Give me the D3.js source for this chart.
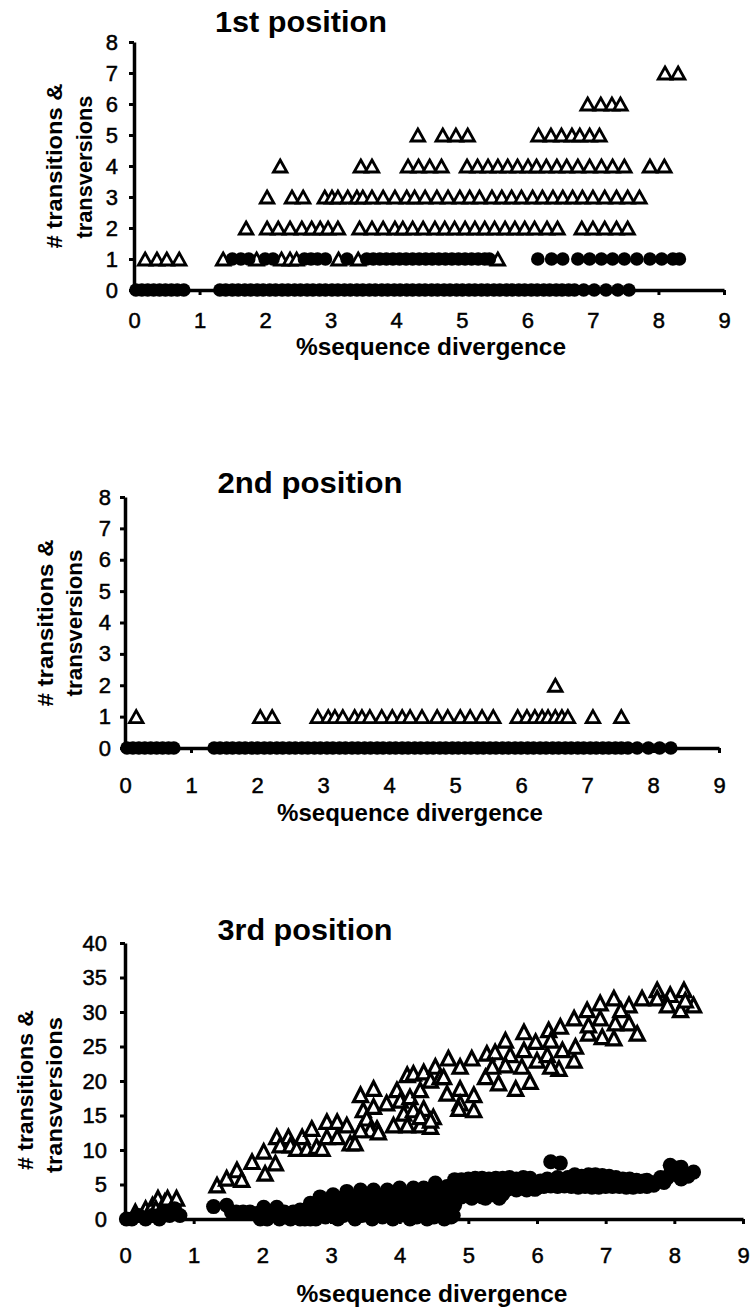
<!DOCTYPE html>
<html>
<head>
<meta charset="utf-8">
<script src="https://cdn.jsdelivr.net/npm/d3@7"></script>
<style>
  body { margin: 0; background: #fff; }
  svg text { font-family: "Liberation Sans", Arial, sans-serif; fill: #000; }
</style>
</head>
<body>
<div id="chart"></div>
<script>
// ---- labels / ticks ----
const xTicks = [0, 1, 2, 3, 4, 5, 6, 7, 8, 9];
const smallYTicks = [0, 1, 2, 3, 4, 5, 6, 7, 8];
const bigYTicks = [0, 5, 10, 15, 20, 25, 30, 35, 40];
const panelTitles = ["1st position", "2nd position", "3rd position"];
const xTitle = "%sequence divergence";
const yTitle = ["# transitions &", "transversions"];

// ---- 1st position: open triangles, x values per count ----
const p1Tri1 = [0.17, 0.35, 0.50, 0.69, 1.36, 1.87, 2.25, 2.38, 2.48, 3.12, 3.42, 5.55];
const p1Tri2 = [1.71, 2.03, 2.20, 2.38, 2.56, 2.71, 2.84, 2.96, 3.11, 3.44, 3.63, 3.80, 3.98, 4.10, 4.25, 4.41,
  4.59, 4.74, 4.89, 5.05, 5.20, 5.35, 5.50, 5.66, 5.81, 5.96, 6.11, 6.30, 6.46, 6.83, 7.00, 7.18, 7.36, 7.53];
const p1Tri3 = [2.03, 2.41, 2.58, 2.91, 3.02, 3.11, 3.26, 3.40, 3.49, 3.63, 3.80, 3.98, 4.16, 4.28, 4.44, 4.62,
  4.79, 4.97, 5.12, 5.27, 5.46, 5.61, 5.76, 5.91, 6.08, 6.23, 6.39, 6.54, 6.69, 6.84, 7.00, 7.18, 7.36, 7.53, 7.71];
const p1Tri4 = [2.23, 3.46, 3.63, 4.18, 4.34, 4.51, 4.69, 5.08, 5.24, 5.40, 5.55, 5.70, 5.85, 6.01, 6.14, 6.29,
  6.45, 6.60, 6.77, 6.95, 7.13, 7.30, 7.48, 7.87, 8.09];
const p1Tri5 = [4.33, 4.71, 4.91, 5.09, 6.17, 6.36, 6.52, 6.68, 6.80, 6.95, 7.10];
const p1Tri6 = [6.92, 7.12, 7.29, 7.42];
const p1Tri7 = [8.10, 8.30];
// filled circles
const p1Circ0 = [0.03, 0.12, 0.21, 0.30, 0.39, 0.48, 0.57, 0.66, 0.76, 1.31, 1.40, 1.50, 1.59, 1.69, 1.78, 1.88,
  1.97, 2.07, 2.16, 2.26, 2.35, 2.45, 2.54, 2.64, 2.73, 2.83, 2.92, 3.02, 3.11, 3.21, 3.30, 3.40, 3.49, 3.59,
  3.68, 3.78, 3.87, 3.97, 4.06, 4.16, 4.25, 4.35, 4.44, 4.54, 4.63, 4.73, 4.82, 4.92, 5.01, 5.11, 5.20, 5.30,
  5.39, 5.49, 5.58, 5.68, 5.77, 5.87, 5.96, 6.06, 6.15, 6.25, 6.34, 6.44, 6.53, 6.63, 6.72, 6.86, 7.02, 7.20,
  7.38, 7.55];
const p1Circ1 = [1.50, 1.63, 1.75, 2.00, 2.12, 2.60, 2.70, 2.80, 2.92, 3.25, 3.55, 3.65, 3.75, 3.85, 3.95, 4.05,
  4.15, 4.25, 4.35, 4.45, 4.55, 4.65, 4.75, 4.85, 4.95, 5.05, 5.15, 5.25, 5.35, 5.42, 6.16, 6.37, 6.54, 6.77,
  6.95, 7.13, 7.30, 7.48, 7.67, 7.87, 8.05, 8.22, 8.32];

// ---- 2nd position ----
const p2Tri1 = [0.17, 2.05, 2.23, 2.92, 3.08, 3.18, 3.30, 3.48, 3.59, 3.71, 3.89, 4.05, 4.20, 4.32, 4.50, 4.73,
  4.89, 5.08, 5.23, 5.41, 5.58, 5.95, 6.09, 6.21, 6.32, 6.41, 6.52, 6.62, 6.71, 7.09, 7.52];
const p2Tri2 = [6.52];
const p2Circ0 = [0.03, 0.12, 0.21, 0.30, 0.39, 0.48, 0.57, 0.66, 0.74, 1.35, 1.44, 1.54, 1.63, 1.73, 1.82, 1.92,
  2.01, 2.11, 2.20, 2.30, 2.39, 2.49, 2.58, 2.68, 2.77, 2.87, 2.96, 3.06, 3.15, 3.25, 3.34, 3.44, 3.53, 3.63,
  3.72, 3.82, 3.91, 4.01, 4.10, 4.20, 4.29, 4.39, 4.48, 4.58, 4.67, 4.77, 4.86, 4.96, 5.05, 5.15, 5.24, 5.34,
  5.43, 5.53, 5.62, 5.72, 5.81, 5.91, 6.00, 6.10, 6.19, 6.29, 6.38, 6.48, 6.57, 6.67, 6.76, 6.86, 6.95, 7.05,
  7.14, 7.24, 7.33, 7.43, 7.52, 7.62, 7.76, 7.93, 8.10, 8.27];

// ---- 3rd position: [divergence, count] ----
const p3Tri = [
  [0.15, 1], [0.30, 1.5], [0.40, 2], [0.48, 3], [0.58, 2.5], [0.62, 3], [0.75, 3], [0.45, 1.5],
  [1.34, 4.9], [1.48, 5.9], [1.63, 7.1], [1.70, 5.7], [1.85, 8.3], [2.02, 9.8], [2.04, 6.6], [2.19, 8.1],
  [2.21, 11.9], [2.38, 11.9], [2.26, 10.7], [2.41, 10.7], [2.58, 11.9], [2.50, 10.2], [2.65, 10.2], [2.72, 13.1],
  [2.79, 10.5], [2.87, 10.2], [2.94, 14.1], [3.09, 14.1], [2.94, 11.9], [3.09, 11.9], [3.23, 13.6], [3.28, 11.0],
  [3.35, 11.0], [3.43, 18.0], [3.62, 18.9], [3.47, 15.8], [3.52, 14.6], [3.62, 16.3], [3.67, 13.1], [3.57, 12.9],
  [3.43, 12.9], [3.81, 16.8], [3.96, 18.7], [4.11, 20.9], [4.20, 21.1], [4.35, 21.3], [4.52, 22.1], [4.71, 23.3],
  [4.01, 17.2], [4.15, 17.7], [4.30, 18.7], [4.45, 20.1], [4.59, 20.6], [4.06, 15.3], [4.20, 15.8], [4.35, 16.0],
  [4.49, 14.8], [3.91, 13.6], [4.11, 13.6], [4.30, 13.6], [4.45, 13.4], [3.69, 12.6], [4.30, 14.8], [4.45, 14.3],
  [4.64, 20.6], [4.88, 22.1], [5.05, 23.3], [4.88, 18.9], [4.69, 18.2], [4.88, 16.8], [4.86, 16.0], [5.08, 15.8],
  [5.08, 18.0], [5.25, 20.6], [5.27, 24.0], [5.39, 24.2], [5.44, 19.7], [5.54, 25.9], [5.61, 23.8], [5.69, 18.9],
  [5.78, 22.1], [5.81, 27.1], [5.90, 19.9], [5.98, 25.7], [6.00, 23.0], [6.15, 23.8], [6.17, 27.4], [6.32, 21.8],
  [6.34, 27.9], [6.37, 24.5], [6.54, 29.1], [6.54, 23.0], [6.56, 25.0], [6.73, 30.3], [6.75, 26.9], [6.92, 31.3],
  [6.95, 26.4], [7.12, 32.0], [7.14, 28.4], [7.12, 26.2], [7.34, 31.0], [7.34, 28.4], [7.46, 26.9], [7.53, 32.0],
  [7.75, 33.2], [7.75, 32.0], [7.94, 32.5], [7.90, 31.0], [8.14, 33.2], [8.09, 30.3], [8.28, 31.0], [8.16, 31.7],
  [5.35, 22.1], [5.81, 24.5], [6.20, 25.9], [6.75, 28.1], [6.92, 29.1], [7.22, 30.3], [5.54, 22.3], [6.20, 22.1]
];
const p3Circ = [
  [0.02, 0], [0.10, 0], [0.20, 0.5], [0.30, 0], [0.40, 0.5], [0.50, 0], [0.55, 1], [0.65, 0.5], [0.72, 1.5], [0.80, 0.5],
  [1.29, 1.8], [1.48, 2.0], [1.55, 1], [1.62, 1], [1.72, 1], [1.82, 1], [1.92, 0.8], [1.97, 0], [2.02, 1.7], [2.07, 0],
  [2.12, 1], [2.21, 1.7], [2.25, 0], [2.32, 1], [2.41, 0], [2.45, 1],
  [2.55, 1.3], [2.70, 2.3], [2.84, 3.2], [3.03, 3.5], [3.23, 4.0], [3.43, 4.2], [3.62, 4.2], [3.82, 4.2], [4.00, 4.5],
  [4.20, 4.5], [4.35, 4.5], [4.52, 5.2], [4.69, 4.7],
  [2.55, 0], [2.70, 0], [2.85, 0.5], [2.95, 1.5], [3.10, 0], [3.10, 2], [3.25, 1], [3.35, 0], [3.40, 2], [3.55, 1],
  [3.60, 0], [3.70, 2.5], [3.80, 1], [3.90, 0], [3.95, 2.5], [4.05, 1], [4.15, 0], [4.20, 2.5], [4.30, 1], [4.40, 0],
  [4.45, 2.5], [4.55, 1], [4.65, 0], [4.70, 2.5], [4.72, 1],
  [2.50, 0.5], [2.62, 0], [2.78, 0], [2.92, 0.3], [3.02, 1], [3.18, 0.5], [3.30, 1.5], [3.45, 0.5], [3.50, 1.8],
  [3.65, 1.5], [3.75, 0.3], [3.85, 2], [4.00, 0.5], [4.10, 2], [4.25, 0.3], [4.35, 1.8], [4.50, 0.3], [4.60, 2],
  [4.75, 0.3], [4.78, 3.5], [4.60, 3.5], [4.10, 3.3], [3.85, 3.3], [3.50, 3.2], [3.20, 2.5], [2.95, 2.5], [4.35, 3.4],
  [3.00, 1.8],
  [2.60, 1.0], [2.75, 1.5], [2.88, 1.2], [3.15, 1.4], [3.30, 2.2], [3.45, 1.5], [3.60, 2.2], [3.75, 1.4], [3.90, 1.5],
  [4.00, 2.5], [4.20, 1.4], [4.30, 2.2], [4.45, 1.5], [4.55, 2.5], [4.65, 1.5], [3.35, 3.0], [3.70, 3.4], [3.95, 3.5],
  [4.25, 3.5], [4.50, 3.8], [3.15, 3.0], [2.95, 2.0], [3.55, 2.8], [4.80, 2.0], [4.78, 0.5],
  [4.80, 5.7], [4.90, 5.7], [5.00, 5.8], [5.10, 5.9], [5.20, 5.9], [5.30, 5.8], [5.40, 5.9], [4.85, 3], [4.95, 3.5],
  [5.05, 3], [5.15, 3.5], [5.25, 3], [5.35, 3.5], [5.45, 3], [5.00, 4.5], [5.30, 4.5],
  [4.85, 4.5], [4.95, 4.8], [5.10, 4.6], [5.20, 4.5], [5.40, 4.6], [5.50, 5.0], [5.65, 5.0], [5.80, 5.0], [5.95, 5.0],
  [4.90, 3.2], [5.20, 3.2], [5.50, 3.6], [5.60, 4.5], [5.75, 4.5], [5.90, 4.5],
  [5.50, 5.9], [5.60, 6.0], [5.70, 5.8], [5.80, 6.0], [5.90, 5.9], [5.55, 4.2], [5.70, 4.2], [5.85, 4.2], [5.97, 4.3],
  [6.05, 5.5], [6.20, 8.3], [6.34, 8.1], [6.15, 5.8], [6.30, 6.0], [6.45, 6.0], [6.55, 6.4], [6.65, 6.2], [6.75, 6.4],
  [6.85, 6.4], [6.95, 6.3], [7.05, 6.2], [7.15, 6.0], [7.25, 5.8], [7.35, 5.8], [7.45, 5.6], [7.55, 5.5], [7.65, 5.3],
  [6.10, 4.7], [6.30, 4.7], [6.50, 4.7], [6.70, 4.7], [6.90, 4.6], [7.10, 4.7], [7.30, 4.6], [7.50, 4.7], [7.60, 4.7],
  [6.20, 5.5], [6.40, 5.5], [6.60, 5.5], [6.80, 5.5], [7.00, 5.5], [7.20, 5.3], [7.40, 5.2], [7.60, 5.6],
  [6.00, 4.5], [6.20, 4.8], [6.40, 4.8], [6.60, 4.6], [6.80, 4.6], [7.00, 4.7], [7.20, 4.7], [7.40, 4.6], [7.70, 4.9],
  [7.70, 5.2], [7.80, 6.0], [7.94, 7.8], [8.05, 7.4], [8.15, 6.5], [8.28, 6.8], [7.90, 6.0], [8.10, 5.8],
  [7.85, 5.3], [8.00, 6.5], [8.20, 6.2], [8.10, 7.5], [7.95, 6.8]
];

const rows = (arr, v) => arr.map(d => [d, v]);

const svg = d3.select("#chart").append("svg")
  .attr("width", 751).attr("height", 1309)
  .style("background", "#fff");

function triPath(w, h) {
  return `M0,${-h / 2}L${w / 2},${h / 2}L${-w / 2},${h / 2}Z`;
}

function drawPanel(cfg) {
  const x = d3.scaleLinear().domain([0, 9]).range([cfg.left, cfg.right]);
  const y = d3.scaleLinear().domain([0, cfg.yMax]).range([cfg.bottom, cfg.top]);
  const g = svg.append("g");

  const ax = g.append("g")
    .attr("transform", `translate(0,${cfg.bottom})`)
    .call(d3.axisBottom(x).tickValues(xTicks).tickSize(5).tickSizeOuter(0).tickPadding(cfg.xPad));
  const ay = g.append("g")
    .attr("transform", `translate(${cfg.left},0)`)
    .call(d3.axisLeft(y).tickValues(cfg.yTicks).tickSize(5).tickSizeOuter(0).tickPadding(cfg.yPad));

  [ax, ay].forEach(a => {
    a.select(".domain").attr("stroke", "#000").attr("stroke-width", 3.5);
    a.selectAll(".tick line").attr("stroke", "#000").attr("stroke-width", 3);
    // scanned digits look a bit heavier than plain regular
    a.selectAll(".tick text").style("font-size", "22px")
      .attr("stroke", "#000").attr("stroke-width", 0.5);
  });

  // open triangles
  g.append("g").selectAll("path")
    .data(cfg.tri)
    .join("path")
    .attr("d", triPath(cfg.tw, cfg.th))
    .attr("transform", d => `translate(${x(d[0])},${y(d[1])})`)
    .attr("fill", "#fff")
    .attr("stroke", "#000")
    .attr("stroke-width", cfg.sw);

  // filled circles
  g.append("g").selectAll("circle")
    .data(cfg.circ)
    .join("circle")
    .attr("cx", d => x(d[0]))
    .attr("cy", d => y(d[1]))
    .attr("r", cfg.r)
    .attr("fill", "#000");

  // title
  g.append("text")
    .attr("x", cfg.titleX).attr("y", cfg.titleY)
    .attr("text-anchor", "middle")
    .attr("textLength", cfg.titleLen).attr("lengthAdjust", "spacingAndGlyphs")
    .style("font-size", "30px").style("font-weight", "bold")
    .text(cfg.title);

  // x axis label
  g.append("text")
    .attr("x", cfg.xLabX).attr("y", cfg.xLabY)
    .attr("text-anchor", "middle")
    .attr("textLength", cfg.xLabLen).attr("lengthAdjust", "spacingAndGlyphs")
    .style("font-size", "23px").style("font-weight", "bold")
    .text(xTitle);

  // y axis label, two lines
  yTitle.forEach((t, i) => {
    g.append("text")
      .attr("transform", `translate(${cfg.yLab[i][0]},${cfg.yLab[i][1]}) rotate(-90)`)
      .attr("text-anchor", "middle")
      .attr("textLength", cfg.yLab[i][2]).attr("lengthAdjust", "spacingAndGlyphs")
      .style("font-size", "22px").style("font-weight", "bold")
      .text(t);
  });
}

drawPanel({
  left: 134, right: 724, bottom: 290, top: 42, yMax: 8, yTicks: smallYTicks,
  xPad: 17, yPad: 11,
  tri: [...rows(p1Tri1, 1), ...rows(p1Tri2, 2), ...rows(p1Tri3, 3), ...rows(p1Tri4, 4),
        ...rows(p1Tri5, 5), ...rows(p1Tri6, 6), ...rows(p1Tri7, 7)],
  circ: [...rows(p1Circ0, 0), ...rows(p1Circ1, 1)],
  tw: 13.5, th: 12, sw: 2.8, r: 6.8,
  title: panelTitles[0], titleX: 301, titleY: 32, titleLen: 172,
  xLabX: 431, xLabY: 355, xLabLen: 270,
  yLab: [[62, 166, 165], [92, 167, 143]]
});

drawPanel({
  left: 125, right: 719, bottom: 748, top: 497, yMax: 8, yTicks: smallYTicks,
  xPad: 24, yPad: 9,
  tri: [...rows(p2Tri1, 1), ...rows(p2Tri2, 2)],
  circ: rows(p2Circ0, 0),
  tw: 13.5, th: 12, sw: 2.8, r: 6.8,
  title: panelTitles[1], titleX: 310, titleY: 493, titleLen: 185,
  xLabX: 410, xLabY: 821, xLabLen: 266,
  yLab: [[53, 623, 167], [82, 623, 147]]
});

drawPanel({
  left: 125, right: 743, bottom: 1219, top: 943, yMax: 40, yTicks: bigYTicks,
  xPad: 23, yPad: 13,
  tri: p3Tri,
  circ: p3Circ,
  tw: 14, th: 13.5, sw: 3.2, r: 7.5,
  title: panelTitles[2], titleX: 305, titleY: 940, titleLen: 175,
  xLabX: 432, xLabY: 1302, xLabLen: 271,
  yLab: [[33, 1090, 160], [62, 1095, 156]]
});
</script>
</body>
</html>
